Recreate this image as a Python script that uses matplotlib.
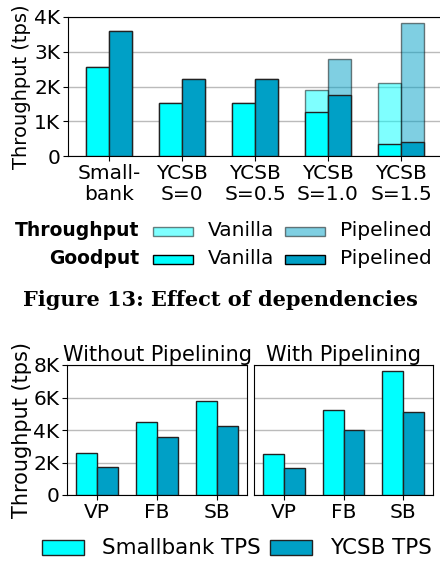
import matplotlib.pyplot as plt
from matplotlib.patches import Rectangle
import numpy as np

plt.rcParams['font.family'] = 'DejaVu Sans'
plt.rcParams['font.size'] = 14

# Figure 13: effect of dependencies
dep_labels = ['Small-\nbank', 'YCSB\nS=0', 'YCSB\nS=0.5', 'YCSB\nS=1.0', 'YCSB\nS=1.5']
vanilla_tput = [2550, 1520, 1520, 1910, 2090]
pipelined_tput = [3600, 2220, 2220, 2790, 3840]
vanilla_good = [2550, 1520, 1520, 1280, 340]
pipelined_good = [3600, 2220, 2220, 1750, 410]

# pipelining comparison
workloads = ['VP', 'FB', 'SB']
sb_no_pipe = [2560, 4470, 5770]
ycsb_no_pipe = [1700, 3550, 4230]
sb_pipe = [2550, 5230, 7610]
ycsb_pipe = [1680, 4020, 5090]

cyan = '#00FFFF'
blue = '#00A0C6'
W, H = 440, 563

fig = plt.figure(figsize=(4.4, 5.63), dpi=100)

def box(l, t, r, b):
    # pixel box -> figure fraction rect
    return [l / W, 1 - b / H, (r - l) / W, (b - t) / H]

# ---- top chart ----
ax = fig.add_axes(box(68, 17, 442, 156))
x = np.arange(len(dep_labels))
w = 0.32
ax.bar(x - w/2, vanilla_tput, w, color=cyan, alpha=0.5, edgecolor='black', lw=1, zorder=2)
ax.bar(x + w/2, pipelined_tput, w, color=blue, alpha=0.5, edgecolor='black', lw=1, zorder=2)
ax.bar(x - w/2, vanilla_good, w, color=cyan, edgecolor='#222222', lw=1, zorder=3)
ax.bar(x + w/2, pipelined_good, w, color=blue, edgecolor='#222222', lw=1, zorder=3)
ax.set_xlim(-0.56, 4.56)
ax.set_ylim(0, 4000)
ax.set_yticks([0, 1000, 2000, 3000, 4000])
ax.set_yticklabels(['0', '1K', '2K', '3K', '4K'])
ax.set_xticks(x)
ax.set_xticklabels(dep_labels, linespacing=1.15)
ax.tick_params(labelsize=14.5, pad=2)
ax.set_ylabel('Throughput (tps)', fontsize=14, labelpad=2)
ax.grid(axis='y', color='#bbbbbb', lw=1)
ax.set_axisbelow(True)
ax.spines['right'].set_visible(False)

# custom legend
rows = [('Throughput', 231, 0.5), ('Goodput', 259, 1.0)]
for name, yc, a in rows:
    fig.text(139 / W, 1 - yc / H, name, ha='right', va='center', weight='bold', fontsize=13.5)
    for (x0, lab), col in zip([(153, 'Vanilla'), (285, 'Pipelined')], [cyan, blue]):
        fig.add_artist(Rectangle((x0 / W, 1 - (yc + 5) / H), 40 / W, 9 / H,
                                 transform=fig.transFigure, facecolor=col,
                                 edgecolor='black', alpha=a, lw=1))
        fig.text((x0 + 55) / W, 1 - yc / H, lab, ha='left', va='center', fontsize=14.5)

fig.text(0.5, 1 - 300 / H, 'Figure 13: Effect of dependencies',
         family='DejaVu Serif', weight='bold', fontsize=15, ha='center', va='center')

# ---- bottom charts ----
ax1 = fig.add_axes(box(67, 365, 247, 495))
ax2 = fig.add_axes(box(254, 365, 433, 495), sharey=ax1)
xb = np.arange(len(workloads))
wb = 0.35
for a_, sb, yc, title in [(ax1, sb_no_pipe, ycsb_no_pipe, 'Without Pipelining'),
                          (ax2, sb_pipe, ycsb_pipe, 'With Pipelining')]:
    a_.bar(xb - wb/2, sb, wb, color=cyan, edgecolor='#222222', lw=1, zorder=3)
    a_.bar(xb + wb/2, yc, wb, color=blue, edgecolor='#222222', lw=1, zorder=3)
    a_.set_xlim(-0.5, 2.5)
    a_.set_xticks(xb)
    a_.set_xticklabels(workloads)
    a_.tick_params(labelsize=14.5, pad=2)
    a_.grid(axis='y', color='#bbbbbb', lw=1)
    a_.set_axisbelow(True)
    a_.set_title(title, fontsize=15, pad=2)
ax1.set_ylim(0, 8000)
ax1.set_yticks([0, 2000, 4000, 6000, 8000])
ax1.set_yticklabels(['0', '2K', '4K', '6K', '8K'])
ax1.set_ylabel('Throughput (tps)', fontsize=15, labelpad=1)
ax2.tick_params(axis='y', left=False, labelleft=False)

for x0, col, lab in [(42, cyan, 'Smallbank TPS'), (270, blue, 'YCSB TPS')]:
    fig.add_artist(Rectangle((x0 / W, 1 - 555 / H), 42 / W, 15 / H,
                             transform=fig.transFigure, facecolor=col,
                             edgecolor='#222222', lw=1))
    fig.text((x0 + 60) / W, 1 - 548 / H, lab, ha='left', va='center', fontsize=15.4)

fig.savefig('out.png', dpi=100)
